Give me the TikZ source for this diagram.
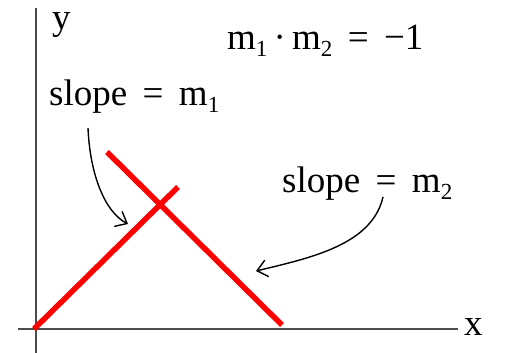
\documentclass[tikz,border=0pt]{standalone}
\usepackage{fontspec}
\setmainfont{Liberation Serif}
\usetikzlibrary{arrows.meta}
\newcommand{\sub}[1]{\raisebox{-7pt}{\fontsize{23}{23}\selectfont #1}}

\begin{document}
\begin{tikzpicture}[
  x=1pt, y=-1pt,
  font=\fontsize{37}{40}\selectfont,
  axis/.style={draw=black!70, line width=2pt},
  perp/.style={red, line width=5.5pt},
  pointer/.style={-{Straight Barb[length=10pt,width=17pt]}, line width=1.4pt},
  lbl/.style={anchor=base west, inner sep=0pt}
]
\useasboundingbox (0,0) rectangle (520,353);
% axes
\coordinate (origin) at (36,329);
\coordinate (ytop)   at (36,8);
\coordinate (ybot)   at (36,353);
\coordinate (xleft)  at (18,329);
\coordinate (xright) at (458,329);
\draw[axis] (ybot) -- (ytop);
\draw[axis] (xleft) -- (xright);
\node[lbl] (ylabel) at (52,30) {y};
\node[lbl] (xlabel) at (464,335) {x};
% the two perpendicular lines
\coordinate (a1) at (34,329);
\coordinate (a2) at (178,187);
\coordinate (b1) at (107,152);
\coordinate (b2) at (282,325);
\draw[perp] (a1) -- (a2);
\draw[perp] (b1) -- (b2);
% labels
\node[lbl] (prod)   at (227,50)  {m\sub{1}\,{\textperiodcentered}\,m\sub{2}\ \,=\ \,−1};
\node[lbl] (slope1) at (49,106)  {slope\ \,=\ \,m\sub{1}};
\node[lbl] (slope2) at (282,192) {slope\ \,=\ \,m\sub{2}};
% pointers
\coordinate (p1) at (88,128);
\coordinate (q1) at (128,224);
\coordinate (p2) at (383,197);
\coordinate (q2) at (256,271);
\draw[pointer] (p1) .. controls (90,175) and (105,212) .. (q1);
\draw[pointer] (p2) .. controls (372,245) and (310,258) .. (q2);
\end{tikzpicture}
\end{document}
